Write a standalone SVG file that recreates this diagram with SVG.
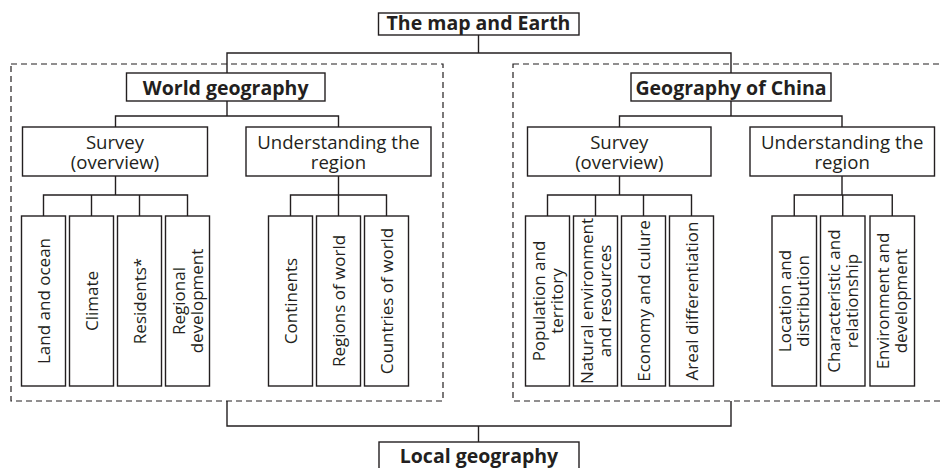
<svg xmlns="http://www.w3.org/2000/svg" width="941" height="468" viewBox="0 0 941 468">
<style>
.bx{fill:#fff;stroke:#231f20;stroke-width:1.4}
.dash{fill:none;stroke:#231f20;stroke-width:1.2;stroke-dasharray:6 4}
.ln{fill:none;stroke:#231f20;stroke-width:1.4}
text{font-family:"Open Sans","Noto Sans","Liberation Sans",sans-serif;fill:#231f20;text-anchor:middle}
.t{font-weight:bold;font-size:19.5px}
.m{font-size:18.6px}
.l{font-size:17px}
</style>
<rect width="941" height="468" fill="#fff"/>
<g id="regions">
<rect class="dash" x="11" y="64" width="432" height="337"/>
<rect class="dash" x="513" y="64" width="440" height="337"/>
</g>
<g id="connectors">
<path class="ln" d="M478.5 35V53M227 73V53H731V73"/>
<path class="ln" d="M227 101V116M115.5 127V116H338.5V127"/>
<path class="ln" d="M115.5 176V195M43.5 216V195H187.5V216M91.5 195V216M139.5 195V216"/>
<path class="ln" d="M338.5 176V195M290.5 216V195H386.5V216M338.5 195V216"/>
<path class="ln" d="M731 101V116M619.5 127V116H842V127"/>
<path class="ln" d="M619.5 176V195M547.5 216V195H691.5V216M595.5 195V216M643.5 195V216"/>
<path class="ln" d="M842 176V195M794.25 216V195H892.25V216M842.75 195V216"/>
<path class="ln" d="M227 401V426H731V401M478.5 426V442"/>
</g>
<g id="map-earth"><rect class="bx" x="378.5" y="13" width="200.5" height="22"/><text class="t" x="478.5" y="29.5">The map and Earth</text></g>
<g id="world"><rect class="bx" x="126.5" y="73" width="198.5" height="28"/><text class="t" x="225.7" y="95">World geography</text></g>
<g id="china"><rect class="bx" x="631" y="73" width="200" height="28"/><text class="t" x="731" y="95">Geography of China</text></g>
<g id="world-survey"><rect class="bx" x="22.5" y="127" width="185" height="49"/><text class="m" x="115" y="149">Survey</text><text class="m" x="115" y="168.5">(overview)</text></g>
<g id="world-region"><rect class="bx" x="246" y="127" width="185" height="49"/><text class="m" x="338.5" y="149">Understanding the</text><text class="m" x="338.5" y="168.5">region</text></g>
<g id="china-survey"><rect class="bx" x="527.5" y="127" width="183.5" height="49"/><text class="m" x="619.3" y="149">Survey</text><text class="m" x="619.3" y="168.5">(overview)</text></g>
<g id="china-region"><rect class="bx" x="750" y="127" width="184.5" height="49"/><text class="m" x="842.2" y="149">Understanding the</text><text class="m" x="842.2" y="168.5">region</text></g>
<g id="land-ocean"><rect class="bx" x="21.5" y="216" width="44" height="170"/><text class="l" transform="translate(43.5 301) rotate(-90)" y="6">Land and ocean</text></g>
<g id="climate"><rect class="bx" x="69.5" y="216" width="44" height="170"/><text class="l" transform="translate(91.5 301) rotate(-90)" y="6">Climate</text></g>
<g id="residents"><rect class="bx" x="117.5" y="216" width="44" height="170"/><text class="l" transform="translate(139.5 301) rotate(-90)" y="6">Residents*</text></g>
<g id="regional-dev"><rect class="bx" x="165.5" y="216" width="44" height="170"/><text class="l" transform="translate(187.5 301) rotate(-90)"><tspan x="0" y="-3">Regional</tspan><tspan x="0" y="15">development</tspan></text></g>
<g id="continents"><rect class="bx" x="268.5" y="216" width="44" height="170"/><text class="l" transform="translate(290.5 301) rotate(-90)" y="6">Continents</text></g>
<g id="regions-world"><rect class="bx" x="316.5" y="216" width="44" height="170"/><text class="l" transform="translate(338.5 301) rotate(-90)" y="6">Regions of world</text></g>
<g id="countries-world"><rect class="bx" x="364.5" y="216" width="44" height="170"/><text class="l" transform="translate(386.5 301) rotate(-90)" y="6">Countries of world</text></g>
<g id="population"><rect class="bx" x="525.5" y="216" width="44" height="170"/><text class="l" transform="translate(547.5 301) rotate(-90)"><tspan x="0" y="-3">Population and</tspan><tspan x="0" y="15">territory</tspan></text></g>
<g id="natural"><rect class="bx" x="573.5" y="216" width="44" height="170"/><text class="l" transform="translate(595.5 301) rotate(-90)"><tspan x="0" y="-3">Natural environment</tspan><tspan x="0" y="15">and resources</tspan></text></g>
<g id="economy"><rect class="bx" x="621.5" y="216" width="44" height="170"/><text class="l" transform="translate(643.5 301) rotate(-90)" y="6">Economy and culure</text></g>
<g id="areal"><rect class="bx" x="669.5" y="216" width="44" height="170"/><text class="l" transform="translate(691.5 301) rotate(-90)" y="6">Areal differentiation</text></g>
<g id="location"><rect class="bx" x="772" y="216" width="44.5" height="170"/><text class="l" transform="translate(794.25 301) rotate(-90)"><tspan x="0" y="-3">Location and</tspan><tspan x="0" y="15">distribution</tspan></text></g>
<g id="characteristic"><rect class="bx" x="820.5" y="216" width="44.5" height="170"/><text class="l" transform="translate(842.75 301) rotate(-90)"><tspan x="0" y="-3">Characteristic and</tspan><tspan x="0" y="15">relationship</tspan></text></g>
<g id="environment"><rect class="bx" x="870" y="216" width="44.5" height="170"/><text class="l" transform="translate(892.25 301) rotate(-90)"><tspan x="0" y="-3">Environment and</tspan><tspan x="0" y="15">development</tspan></text></g>
<g id="local"><rect class="bx" x="379" y="442" width="200" height="28"/><text class="t" x="479" y="463">Local geography</text></g>
</svg>
